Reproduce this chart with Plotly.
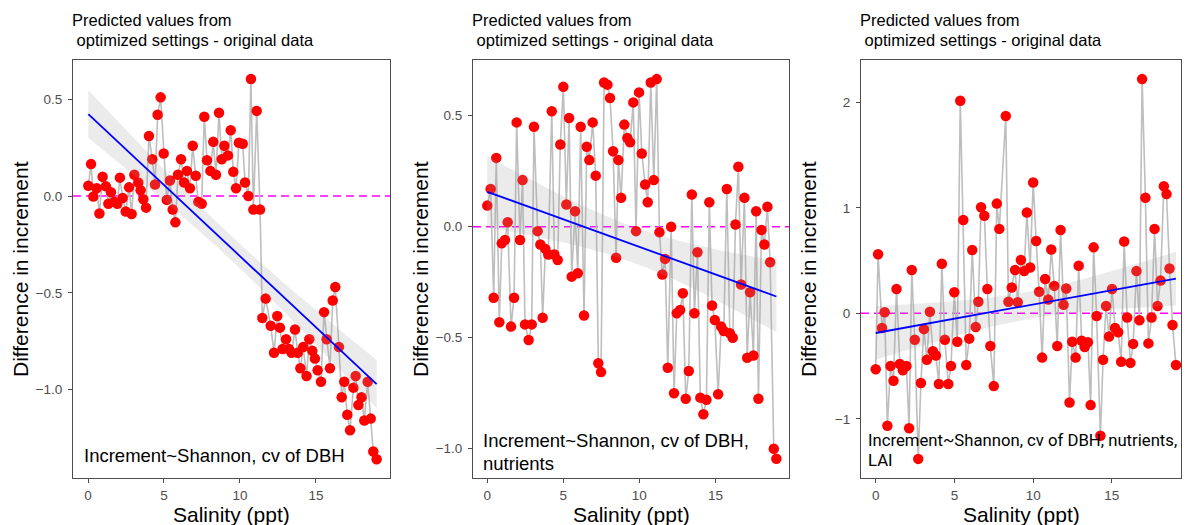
import numpy as np
import plotly.graph_objects as go

# ---------------- data ----------------
sal1 = [0.02, 0.2, 0.35, 0.57, 0.75, 0.96, 1.18, 1.34, 1.51, 1.73, 1.93, 2.1, 2.28, 2.48, 2.7, 2.87,
        3.05, 3.31, 3.46, 3.64, 3.82, 4.01, 4.23, 4.41, 4.58, 4.78, 4.98, 5.18, 5.39, 5.57, 5.75, 5.92,
        6.12, 6.32, 6.51, 6.71, 6.89, 7.09, 7.26, 7.48, 7.65, 7.83, 8.05, 8.24, 8.42, 8.62, 8.8, 8.97,
        9.21, 9.39, 9.56, 9.74, 9.93, 10.18, 10.33, 10.55, 10.72, 10.88, 11.1, 11.32, 11.47, 11.69,
        12.02, 12.24, 12.45, 12.63, 12.8, 13.03, 13.22, 13.4, 13.62, 13.8, 13.97, 14.16, 14.38, 14.56,
        14.76, 14.93, 15.11, 15.33, 15.53, 15.7, 15.92, 16.1, 16.27, 16.51, 16.69, 16.86, 17.06, 17.24,
        17.46, 17.61, 17.79, 18.0, 18.18, 18.4, 18.6, 18.77, 18.99]
diff1 = [0.053, 0.165, -0.003, 0.04, -0.09, 0.10, 0.05, -0.04, 0.02, -0.03, -0.04, 0.095, -0.01, -0.08,
         0.045, -0.093, 0.11, 0.07, 0.03, -0.017, -0.06, 0.31, 0.19, 0.06, 0.42, 0.51, 0.22, -0.02, 0.08,
         -0.07, -0.136, 0.11, 0.19, 0.07, 0.13, 0.04, 0.26, 0.105, -0.03, -0.04, 0.41, 0.185, 0.13, 0.28,
         0.11, 0.43, 0.19, 0.26, 0.21, 0.34, 0.125, 0.04, 0.275, 0.27, 0.07, 0.0, 0.605, -0.07, 0.44,
         -0.07, -0.63, -0.53, -0.67, -0.81, -0.62, -0.68, -0.79, -0.74, -0.79, -0.81, -0.69, -0.81, -0.89,
         -0.78, -0.93, -0.74, -0.80, -0.84, -0.90, -0.96, -0.60, -0.74, -0.89, -0.54, -0.47, -0.78, -1.04,
         -0.96, -1.13, -1.21, -0.99, -0.93, -1.08, -1.04, -1.16, -0.96, -1.15, -1.32, -1.36]

sal2 = [0.0, 0.22, 0.42, 0.59, 0.79, 0.95, 1.16, 1.34, 1.56, 1.76, 1.93, 2.15, 2.32, 2.48, 2.72, 2.92,
        3.07, 3.31, 3.49, 3.64, 3.82, 4.01, 4.24, 4.41, 4.63, 4.8, 5.0, 5.2, 5.38, 5.55, 5.77, 5.95,
        6.14, 6.36, 6.54, 6.71, 6.93, 7.13, 7.3, 7.48, 7.68, 7.9, 8.07, 8.27, 8.47, 8.62, 8.8, 9.01,
        9.21, 9.39, 9.6, 9.78, 9.98, 10.16, 10.38, 10.55, 10.75, 10.95, 11.14, 11.32, 11.51, 11.69,
        11.87, 12.09, 12.28, 12.46, 12.68, 12.86, 13.05, 13.25, 13.45, 13.62, 13.82, 14.01, 14.21,
        14.41, 14.6, 14.78, 14.96, 15.18, 15.38, 15.55, 15.75, 15.95, 16.14, 16.32, 16.51, 16.69,
        16.91, 17.09, 17.28, 17.5, 17.68, 17.83, 18.03, 18.22, 18.42, 18.6, 18.84, 19.01]
diff2 = [0.095, 0.17, -0.32, 0.31, -0.43, -0.075, -0.06, 0.02, -0.45, -0.32, 0.47, -0.06, 0.21, -0.44,
         -0.51, -0.44, 0.45, -0.02, -0.08, -0.41, -0.10, -0.125, 0.52, -0.125, -0.15, 0.37, 0.63, 0.10,
         0.49, -0.225, 0.07, -0.21, 0.45, -0.40, 0.36, 0.30, 0.47, 0.23, -0.615, -0.655, 0.65, 0.64,
         0.58, 0.34, -0.14, 0.30, 0.13, 0.46, 0.40, 0.38, 0.56, -0.02, 0.605, 0.33, 0.19, 0.11, 0.65,
         0.21, 0.665, -0.025, -0.215, -0.145, -0.635, 0.0, -0.75, -0.39, -0.375, -0.30, -0.775, -0.65,
         0.145, -0.39, -0.115, -0.77, -0.845, -0.78, 0.11, -0.355, -0.42, -0.755, -0.45, -0.47, 0.17,
         -0.48, -0.50, 0.01, 0.27, -0.26, 0.13, -0.59, -0.295, -0.58, 0.07, -0.775, -0.015, -0.08, 0.09,
         -0.16, -1.0, -1.045]

sal3 = [0.0, 0.15, 0.4, 0.57, 0.74, 0.94, 1.13, 1.32, 1.53, 1.72, 1.95, 2.12, 2.29, 2.48, 2.7, 2.87,
        3.06, 3.25, 3.44, 3.63, 3.82, 4.01, 4.2, 4.39, 4.61, 4.78, 4.99, 5.18, 5.37, 5.56, 5.75, 5.94,
        6.13, 6.35, 6.52, 6.69, 6.9, 7.09, 7.28, 7.5, 7.69, 7.85, 8.26, 8.43, 8.64, 8.85, 9.02, 9.22,
        9.43, 9.6, 9.81, 10.0, 10.19, 10.38, 10.57, 10.76, 10.96, 11.15, 11.34, 11.53, 11.74, 11.93,
        12.1, 12.31, 12.48, 12.7, 12.89, 13.08, 13.27, 13.48, 13.65, 13.84, 14.03, 14.27, 14.44, 14.63,
        14.82, 15.01, 15.2, 15.4, 15.59, 15.78, 15.97, 16.18, 16.35, 16.56, 16.75, 16.92, 17.13, 17.32,
        17.52, 17.71, 17.9, 18.09, 18.3, 18.47, 18.66, 18.85, 19.07]
diff3 = [-0.53, 0.56, -0.14, 0.01, -1.065, -0.50, -0.64, 0.23, -0.48, -0.54, -0.50, -1.09, 0.41, -0.25,
         -1.38, -0.66, -0.15, -0.44, 0.015, -0.36, -0.40, -0.67, 0.47, -0.25, -0.67, -0.50, 0.20, -0.27,
         2.015, 0.885, -0.49, -0.24, 0.60, -0.13, 0.11, 1.005, 0.925, 0.23, -0.31, -0.69, 1.04, 0.80,
         1.87, 0.11, 0.245, 0.41, 0.105, 0.505, 0.40, 0.955, 0.435, 1.24, 0.685, 0.205, -0.42, 0.325,
         0.13, 0.605, 0.26, -0.31, 0.79, 0.08, 0.235, -0.845, -0.27, -0.42, 0.45, -0.26, -0.32, -0.275,
         -0.87, 0.625, -0.025, -1.16, -0.44, 0.07, -0.22, 0.23, -0.14, -0.18, -0.46, 0.68, -0.04, -0.47,
         -0.29, 0.40, -0.065, 2.22, 1.095, -0.285, -0.04, 0.80, 0.07, 0.31, 1.205, 1.13, 0.425, -0.11,
         -0.49]

x_ticks = [0, 5, 10, 15]
y_ticks1 = [0.5, 0.0, -0.5, -1.0]
y_labels1 = ["0.5", "0.0", "\u22120.5", "\u22121.0"]
y_ticks2 = [0.5, 0.0, -0.5, -1.0]
y_labels2 = ["0.5", "0.0", "\u22120.5", "\u22121.0"]
y_ticks3 = [2, 1, 0, -1]
y_labels3 = ["2", "1", "0", "\u22121"]

title_l1 = "Predicted values from"
title_l2 = " optimized settings - original data"
model_labels = [["Increment~Shannon, cv of DBH"],
                ["Increment~Shannon, cv of DBH,", "nutrients"],
                ["Increment~Shannon, cv of DBH, nutrients,", "LAI"]]
x_title = "Salinity (ppt)"
y_title = "Difference in increment"

# ---------------- layout geometry (pixels) ----------------
W, H = 1187, 525
TOP, BOT = 60, 478
panels = [
    dict(left=73, right=390, xr=[-0.987, 19.87], yr=[-1.457, 0.703], yt=y_ticks1, yl=y_labels1,
         sal=sal1, diff=diff1, ytx=20, font="Liberation Sans", fsize=18.5, ly=[455], lx=82),
    dict(left=473, right=789, xr=[-0.94, 19.84], yr=[-1.132, 0.751], yt=y_ticks2, yl=y_labels2,
         sal=sal2, diff=diff2, ytx=420, font="Liberation Sans", fsize=18.5, ly=[440, 463], lx=481),
    dict(left=861, right=1181, xr=[-0.935, 19.39], yr=[-1.561, 2.401], yt=y_ticks3, yl=y_labels3,
         sal=sal3, diff=diff3, ytx=808, font="Roboto", fsize=16.7, ly=[440, 460], lx=866),
]

T975 = 1.984
fig = go.Figure()
annotations = []
layout_axes = {}
AX = "#4D4D4D"
for i, p in enumerate(panels):
    k = "" if i == 0 else str(i + 1)
    xa, ya = "x" + k, "y" + k
    x = np.array(p["sal"], float)
    y = np.array(p["diff"], float)

    # zero reference line
    fig.add_trace(go.Scatter(x=[p["xr"][0], p["xr"][1]], y=[0, 0], mode="lines",
                             line=dict(color="#FF00FF", width=1.5, dash="8px,5px"),
                             xaxis=xa, yaxis=ya, showlegend=False, hoverinfo="skip"))
    # connecting line
    fig.add_trace(go.Scatter(x=x, y=y, mode="lines", line=dict(color="#BEBEBE", width=1.6),
                             xaxis=xa, yaxis=ya, showlegend=False))
    # points
    fig.add_trace(go.Scatter(x=x, y=y, mode="markers",
                             marker=dict(color="#FF0000", size=10.5, line=dict(width=0)),
                             xaxis=xa, yaxis=ya, showlegend=False))
    # linear fit with 95% CI
    n = len(x)
    b, a = np.polyfit(x, y, 1)
    resid = y - (a + b * x)
    s = np.sqrt(np.sum(resid ** 2) / (n - 2))
    xm = x.mean()
    sxx = np.sum((x - xm) ** 2)
    xg = np.linspace(x.min(), x.max(), 80)
    yg = a + b * xg
    se = s * np.sqrt(1.0 / n + (xg - xm) ** 2 / sxx)
    up, lo = yg + T975 * se, yg - T975 * se
    fig.add_trace(go.Scatter(x=np.concatenate([xg, xg[::-1]]), y=np.concatenate([up, lo[::-1]]),
                             fill="toself", fillcolor="rgba(153,153,153,0.2)", mode="lines",
                             line=dict(width=0), xaxis=xa, yaxis=ya, showlegend=False,
                             hoverinfo="skip"))
    fig.add_trace(go.Scatter(x=xg, y=yg, mode="lines", line=dict(color="#0000FF", width=1.8),
                             xaxis=xa, yaxis=ya, showlegend=False))

    common = dict(ticks="outside", ticklen=4, tickcolor=AX, tickwidth=1, showline=True,
                  linecolor=AX, linewidth=1, mirror=True, showgrid=False, zeroline=False,
                  tickfont=dict(family="Liberation Sans", size=13.5, color="#4D4D4D"))
    layout_axes["xaxis" + k] = dict(
        domain=[p["left"] / W, p["right"] / W], range=p["xr"], anchor=ya,
        tickvals=x_ticks, ticktext=[str(t) for t in x_ticks], ticklabelstandoff=1, **common)
    layout_axes["yaxis" + k] = dict(
        domain=[(H - BOT) / H, (H - TOP) / H], range=p["yr"], anchor=xa,
        tickvals=p["yt"], ticktext=p["yl"], ticklabelstandoff=3, **common)

    # titles
    for txt, yy in ((title_l1, 20), (title_l2, 40)):
        annotations.append(dict(text=txt, x=(p["left"] - 3) / W, y=1 - yy / H, xref="paper",
                                yref="paper", xanchor="left", yanchor="middle", showarrow=False,
                                font=dict(family="Liberation Sans", size=16.5, color="black")))
    # axis titles
    annotations.append(dict(text=x_title, x=(p["left"] + p["right"]) / 2 / W, y=1 - 514 / H,
                            xref="paper", yref="paper", xanchor="center", yanchor="middle",
                            showarrow=False,
                            font=dict(family="Liberation Sans", size=21, color="black")))
    annotations.append(dict(text=y_title, x=p["ytx"] / W, y=1 - (TOP + BOT) / 2 / H,
                            xref="paper", yref="paper", xanchor="center", yanchor="middle",
                            textangle=-90, showarrow=False,
                            font=dict(family="Liberation Sans", size=21, color="black")))
    # model label lines
    for txt, yy in zip(model_labels[i], p["ly"]):
        annotations.append(dict(text=txt, x=p["lx"] / W, y=1 - yy / H,
                                xref="paper", yref="paper", xanchor="left", yanchor="middle",
                                align="left", showarrow=False,
                                font=dict(family=p["font"], size=p["fsize"], color="black")))

fig.update_layout(width=W, height=H, margin=dict(l=0, r=0, t=0, b=0),
                  paper_bgcolor="white", plot_bgcolor="white", annotations=annotations,
                  **layout_axes)
fig.write_html("out.html", config={"displayModeBar": False},
               post_script="document.body.style.margin='0';")
